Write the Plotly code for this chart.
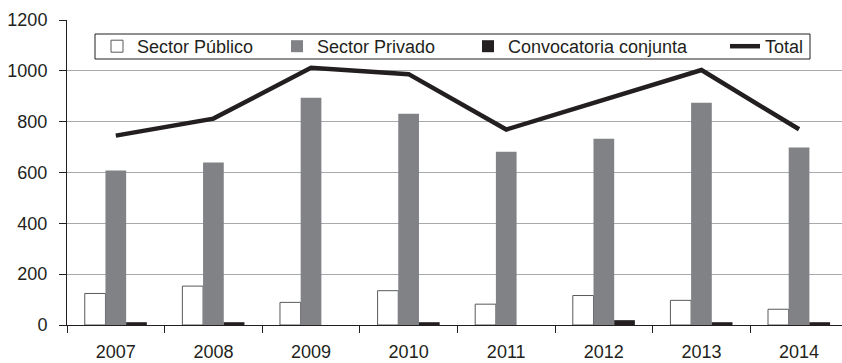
import plotly.graph_objects as go

years = ["2007", "2008", "2009", "2010", "2011", "2012", "2013", "2014"]
sector_publico = [124, 153, 89, 135, 82, 116, 97, 62]
sector_privado = [608, 639, 894, 831, 682, 733, 874, 698]
convocatoria_conjunta = [11, 11, 0, 11, 0, 19, 11, 11]
total = [745, 812, 1012, 987, 769, 885, 1003, 770]

y_ticks = [0, 200, 400, 600, 800, 1000, 1200]

ink = "#231f20"
font = dict(family="Liberation Sans, Arial, Helvetica, sans-serif", size=18, color=ink)

# plot area in pixels (for placing the legend entries)
PLOT_LEFT, PLOT_W, PLOT_TOP, PLOT_H = 67, 775, 20, 305


def px_x(px):
    return (px - PLOT_LEFT) / PLOT_W


def px_y(px):
    return 1 - (px - PLOT_TOP) / PLOT_H


fig = go.Figure()
fig.add_trace(go.Bar(
    x=years, y=sector_publico, name="Sector Público", legend="legend",
    marker=dict(color="#ffffff", line=dict(color="#58595b", width=1)),
))
fig.add_trace(go.Bar(
    x=years, y=sector_privado, name="Sector Privado", legend="legend2",
    marker=dict(color="#808285", line=dict(width=0)),
))
fig.add_trace(go.Bar(
    x=years, y=convocatoria_conjunta, name="Convocatoria conjunta", legend="legend3",
    marker=dict(color=ink, line=dict(width=0)),
))
fig.add_trace(go.Scatter(
    x=years, y=total, name="Total", mode="lines", legend="legend4",
    line=dict(color=ink, width=4.5),
))

legend_common = dict(
    orientation="h", xanchor="left", yanchor="middle", y=px_y(46.5),
    bgcolor="rgba(0,0,0,0)", borderwidth=0, font=font,
)

fig.update_layout(
    width=842, height=363,
    margin=dict(l=PLOT_LEFT, r=0, t=PLOT_TOP, b=363 - PLOT_TOP - PLOT_H, autoexpand=False),
    paper_bgcolor="white", plot_bgcolor="white",
    font=font,
    barmode="group", bargap=0.364, bargroupgap=0,
    showlegend=True,
    legend=dict(x=px_x(97), **legend_common),
    legend2=dict(x=px_x(277), **legend_common),
    legend3=dict(x=px_x(468), **legend_common),
    legend4=dict(x=px_x(725), **legend_common),
    shapes=[dict(
        type="rect", xref="paper", yref="paper", layer="above",
        x0=px_x(95), x1=px_x(810), y0=px_y(59), y1=px_y(34),
        fillcolor="white", line=dict(color=ink, width=1),
    )],
    xaxis=dict(
        type="category", range=[-0.5, 7.44], tickson="boundaries",
        ticks="outside", ticklen=7, tickcolor=ink, tickwidth=1,
        showline=True, linecolor=ink, linewidth=1,
        showgrid=False, zeroline=False, tickfont=font,
        ticklabelstandoff=10, automargin=False,
    ),
    yaxis=dict(
        range=[0, 1200], tickvals=y_ticks,
        ticks="outside", ticklen=7, tickcolor=ink, tickwidth=1,
        showline=True, linecolor=ink, linewidth=1,
        showgrid=True, gridcolor="#a7a9ac", gridwidth=1,
        zeroline=False, tickfont=font, ticklabelstandoff=8, automargin=False,
    ),
)

fig.write_html("out.html")
